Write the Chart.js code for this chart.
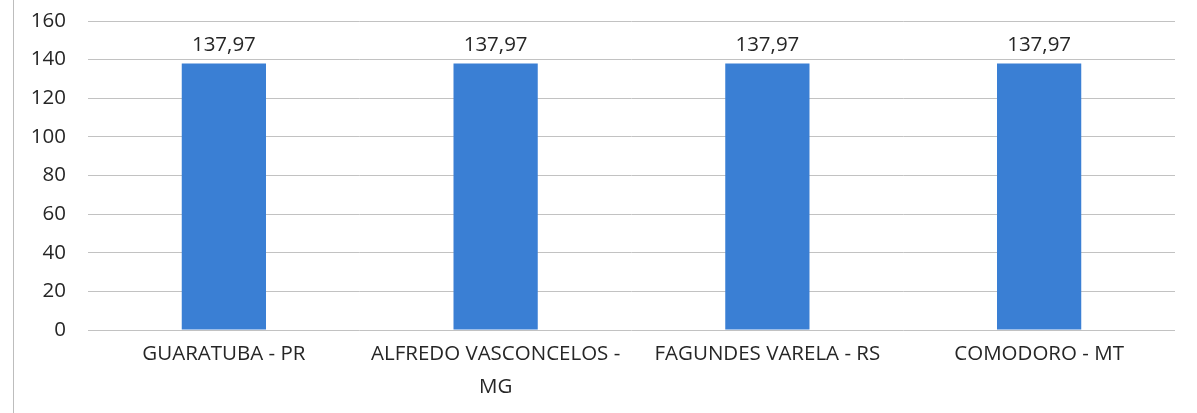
<!DOCTYPE html>
<html>
<head>
<meta charset="utf-8">
<style>
    html, body { margin: 0; padding: 0; background: #fff; }
    #wrap { width: 1197px; height: 413px; position: relative; }
</style>
</head>
<body>
<div id="wrap">
    <canvas id="myChart" width="1197" height="413"></canvas>
</div>

<script src="https://cdn.jsdelivr.net/npm/chart.js"></script>

<script>
    // data
    const categories = [
        'GUARATUBA - PR',
        ['ALFREDO VASCONCELOS -', 'MG'],
        'FAGUNDES VARELA - RS',
        'COMODORO - MT'
    ];
    const values = [137.97, 137.97, 137.97, 137.97];
    const yTicks = [0, 20, 40, 60, 80, 100, 120, 140, 160];

    const textColor = '#262626';
    const fontFamily = '"Open Sans", "Liberation Sans", sans-serif';

    // value labels above bars, "137,97" style
    const valueLabels = {
        id: 'valueLabels',
        afterDatasetsDraw(chart) {
            const ctx = chart.ctx;
            const meta = chart.getDatasetMeta(0);
            ctx.save();
            ctx.font = '20.5px ' + fontFamily;
            ctx.fillStyle = textColor;
            ctx.textAlign = 'center';
            ctx.textBaseline = 'bottom';
            meta.data.forEach(function (bar, i) {
                const txt = values[i].toFixed(2).replace('.', ',');
                ctx.fillText(txt, bar.x, bar.y - 8);
            });
            ctx.restore();
        }
    };

    // thin frame line on the left edge of the chart box
    const frame = {
        id: 'frame',
        beforeDraw(chart) {
            const ctx = chart.ctx;
            ctx.save();
            ctx.strokeStyle = '#bdbdbd';
            ctx.lineWidth = 1;
            ctx.beginPath();
            ctx.moveTo(13.5, 0);
            ctx.lineTo(13.5, chart.height);
            ctx.stroke();
            ctx.restore();
        }
    };

    const ctx = document.getElementById('myChart');

    new Chart(ctx, {
        type: 'bar',
        data: {
            labels: categories,
            datasets: [{
                data: values,
                backgroundColor: '#3a7fd4',
                borderWidth: 0,
                barPercentage: 0.31,
                categoryPercentage: 1
            }]
        },
        options: {
            responsive: false,
            animation: false,
            layout: { padding: { top: 21, right: 22, left: 0, bottom: 0 } },
            plugins: {
                legend: { display: false },
                tooltip: { enabled: false }
            },
            scales: {
                x: {
                    grid: { display: false },
                    border: { display: false },
                    ticks: {
                        color: textColor,
                        font: { family: fontFamily, size: 20.5, lineHeight: 1.6 },
                        padding: 0,
                        maxRotation: 0,
                        autoSkip: false
                    },
                    afterFit(scale) { scale.height = 83; }
                },
                y: {
                    min: yTicks[0],
                    max: yTicks[yTicks.length - 1],
                    afterBuildTicks(scale) {
                        scale.ticks = yTicks.map(v => ({ value: v }));
                    },
                    grid: { color: '#c2c2c2', lineWidth: 1, drawTicks: false },
                    border: { display: false },
                    ticks: {
                        color: textColor,
                        font: { family: fontFamily, size: 20.5 },
                        padding: 22
                    },
                    afterFit(scale) {
                        scale.width = 88;
                        scale.paddingTop = 0;
                        scale.paddingBottom = 0;
                    }
                }
            }
        },
        plugins: [frame, valueLabels]
    });
</script>
</body>
</html>
